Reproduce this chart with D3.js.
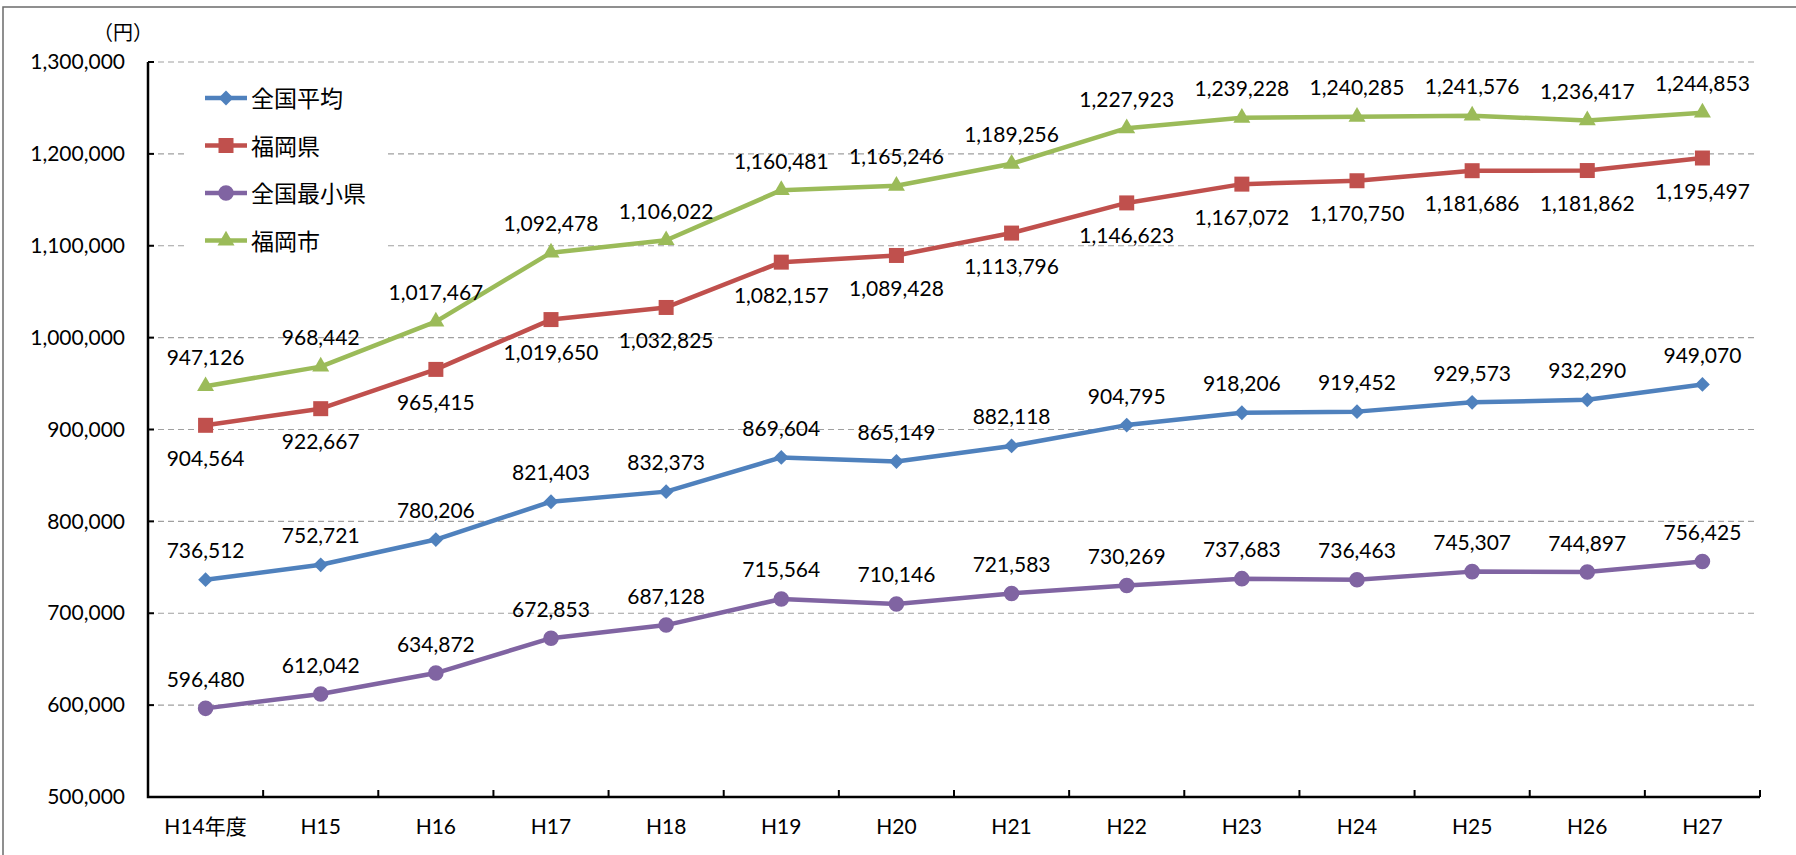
<!DOCTYPE html>
<html>
<head>
<meta charset="utf-8">
<script src="https://cdn.jsdelivr.net/npm/d3@7"></script>
<style>
  html, body { margin: 0; padding: 0; background: #fff; }
  svg { display: block; }
  text { font-family: Lato, "Noto Sans CJK JP", sans-serif; fill: #000; }
</style>
</head>
<body>
<svg id="chart" width="1796" height="855"></svg>
<script>
// categories and series (yen)
const years = ["H14年度", "H15", "H16", "H17", "H18", "H19", "H20", "H21", "H22", "H23", "H24", "H25", "H26", "H27"];
const national_avg = [736512, 752721, 780206, 821403, 832373, 869604, 865149, 882118, 904795, 918206, 919452, 929573, 932290, 949070];
const fukuoka_pref = [904564, 922667, 965415, 1019650, 1032825, 1082157, 1089428, 1113796, 1146623, 1167072, 1170750, 1181686, 1181862, 1195497];
const national_min = [596480, 612042, 634872, 672853, 687128, 715564, 710146, 721583, 730269, 737683, 736463, 745307, 744897, 756425];
const fukuoka_city = [947126, 968442, 1017467, 1092478, 1106022, 1160481, 1165246, 1189256, 1227923, 1239228, 1240285, 1241576, 1236417, 1244853];
const y_ticks = [500000, 600000, 700000, 800000, 900000, 1000000, 1100000, 1200000, 1300000];
const series_names = ["全国平均", "福岡県", "全国最小県", "福岡市"];

// excel style diamond (rotated square)
const diamond = {
  draw(ctx, size) {
    const r = Math.sqrt(size / 2);
    ctx.moveTo(0, -r); ctx.lineTo(r, 0); ctx.lineTo(0, r); ctx.lineTo(-r, 0); ctx.closePath();
  }
};

const series = [
  {name: series_names[0], values: national_avg, color: "#4f81bd", symbol: diamond, size: 110, dy: -30},
  {name: series_names[1], values: fukuoka_pref, color: "#c0504d", symbol: d3.symbolSquare, size: 225, dy: 32},
  {name: series_names[2], values: national_min, color: "#8064a2", symbol: d3.symbolCircle, size: 190, dy: -30},
  {name: series_names[3], values: fukuoka_city, color: "#9bbb59", symbol: d3.symbolTriangle, size: 125, dy: -30}
];

const svg = d3.select("#chart");
const plotLeft = 148, plotRight = 1760, plotTop = 62, plotBottom = 797;

// outer frame
svg.append("rect")
  .attr("x", 3).attr("y", 7).attr("width", 1820).attr("height", 880)
  .attr("fill", "none").attr("stroke", "#6b6b6b").attr("stroke-width", 1.5);

const x = d3.scaleBand().domain(years).range([plotLeft, plotRight]).padding(0);
const y = d3.scaleLinear().domain([500000, 1300000]).range([plotBottom, plotTop]);
const cx = d => x(d) + x.bandwidth() / 2;

// gridlines
svg.append("g")
  .selectAll("line")
  .data(y_ticks.filter(d => d > 500000))
  .join("line")
  .attr("x1", plotLeft).attr("x2", plotRight - 3)
  .attr("y1", d => y(d)).attr("y2", d => y(d))
  .attr("stroke", "#a0a0a0").attr("stroke-width", 1.2)
  .attr("stroke-dasharray", "6,4");

// legend background
svg.append("rect")
  .attr("x", 188).attr("y", 70).attr("width", 200).attr("height", 195)
  .attr("fill", "#fff");

// y axis labels
const yAxis = svg.append("g")
  .attr("transform", "translate(" + plotLeft + ",0)")
  .call(d3.axisLeft(y).tickValues(y_ticks).tickFormat(d3.format(",")).tickSize(0).tickPadding(23));
yAxis.select(".domain").remove();
yAxis.selectAll("text").attr("font-size", 21).attr("font-family", null);

// inward ticks on y
svg.append("g")
  .selectAll("line")
  .data(y_ticks)
  .join("line")
  .attr("x1", plotLeft).attr("x2", plotLeft + 6)
  .attr("y1", d => y(d)).attr("y2", d => y(d))
  .attr("stroke", "#000").attr("stroke-width", 2);

// x axis labels
const xAxis = svg.append("g")
  .attr("transform", "translate(0," + plotBottom + ")")
  .call(d3.axisBottom(x).tickSize(0).tickPadding(22));
xAxis.select(".domain").remove();
xAxis.selectAll("text").attr("font-size", 21).attr("font-family", null);

// x ticks at category boundaries
svg.append("g")
  .selectAll("line")
  .data(years.map(d => x(d)).slice(1).concat([plotRight]))
  .join("line")
  .attr("x1", d => d).attr("x2", d => d)
  .attr("y1", plotBottom).attr("y2", plotBottom - 7)
  .attr("stroke", "#000").attr("stroke-width", 2);

// axis lines
svg.append("path")
  .attr("d", "M" + plotLeft + "," + plotTop + "V" + plotBottom + "H" + plotRight)
  .attr("fill", "none").attr("stroke", "#000").attr("stroke-width", 2.5);

// unit
svg.append("text")
  .attr("x", 123).attr("y", 40)
  .attr("text-anchor", "middle")
  .attr("font-size", 20)
  .text("（円）");

const line = d3.line()
  .x((d, i) => cx(years[i]))
  .y(d => y(d));

series.forEach(s => {
  const g = svg.append("g");
  g.append("path")
    .datum(s.values)
    .attr("fill", "none")
    .attr("stroke", s.color)
    .attr("stroke-width", 4.5)
    .attr("stroke-linejoin", "round")
    .attr("d", line);
  g.selectAll("path.m")
    .data(s.values)
    .join("path")
    .attr("class", "m")
    .attr("transform", (d, i) => "translate(" + cx(years[i]) + "," + y(d) + ")")
    .attr("d", d3.symbol().type(s.symbol).size(s.size))
    .attr("fill", s.color);
  g.selectAll("text")
    .data(s.values)
    .join("text")
    .attr("x", (d, i) => cx(years[i]))
    .attr("y", d => y(d) + s.dy)
    .attr("text-anchor", "middle")
    .attr("dominant-baseline", "central")
    .attr("font-size", 21)
    .text(d => d3.format(",")(d));
});

// legend
const legend = svg.append("g").attr("transform", "translate(205,98)");
series.forEach((s, i) => {
  const row = legend.append("g").attr("transform", "translate(0," + (i * 47.5) + ")");
  row.append("line")
    .attr("x1", 0).attr("x2", 42)
    .attr("stroke", s.color).attr("stroke-width", 4.5);
  row.append("path")
    .attr("transform", "translate(21,0)")
    .attr("d", d3.symbol().type(s.symbol).size(s.size))
    .attr("fill", s.color);
  row.append("text")
    .attr("x", 46)
    .attr("dominant-baseline", "central")
    .attr("font-size", 23)
    .text(s.name);
});
</script>
</body>
</html>
